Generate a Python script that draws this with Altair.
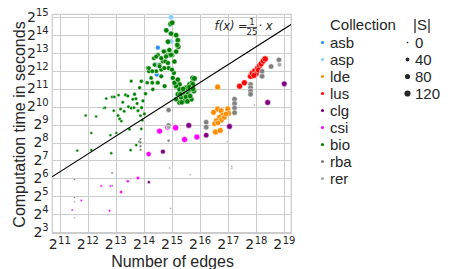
import altair as alt
import pandas as pd

collections = ["asb", "asp", "lde", "lus", "clg", "csi", "bio", "rba", "rer"]
colors = ["#1e90ff", "#87cefa", "#ff8c00", "#ff0000", "#800080", "#ff00ff", "#008000", "#808080", "#a9a9a9"]

# values stored as log2(edges), log2(seconds), |S|
asb_x = [14.50, 14.46, 14.44]
asb_y = [13.30, 11.80, 12.30]
asb_s = [70, 70, 50]

asp_x = [14.97, 14.93, 14.95, 14.97, 14.42, 14.45]
asp_y = [15.00, 14.55, 14.10, 13.65, 12.40, 11.95]
asp_s = [90, 70, 80, 90, 60, 50]

lde_x = [16.63, 16.63, 16.48, 16.75, 16.99, 17.02, 16.81, 16.69, 16.58, 16.52, 16.76, 16.87, 16.93, 16.64, 16.55, 16.72]
lde_y = [11.10, 9.87, 9.69, 9.78, 9.87, 9.63, 9.54, 9.41, 9.23, 9.05, 9.25, 9.41, 9.60, 9.10, 8.59, 8.68]
lde_s = [110, 110, 100, 100, 110, 100, 90, 90, 90, 90, 90, 90, 90, 90, 110, 110]

lus_x = [17.41, 17.58, 17.80, 17.86, 17.95, 18.00, 18.05, 18.12, 18.18, 18.25, 18.32, 17.92, 18.08]
lus_y = [11.15, 11.34, 11.70, 11.88, 12.00, 11.85, 12.15, 12.28, 12.40, 12.55, 12.67, 11.75, 12.05]
lus_s = [110, 110, 115, 115, 115, 110, 115, 115, 115, 115, 120, 110, 110]

clg_x = [14.68, 15.60, 16.22, 17.05, 18.41, 19.00, 14.18]
clg_y = [7.49, 8.96, 8.41, 8.90, 10.24, 11.28, 5.79]
clg_s = [70, 100, 90, 100, 100, 100, 25]

csi_x = [14.56, 15.13, 15.45, 15.89, 14.17, 13.79, 13.43, 13.19, 12.81, 12.48, 12.78, 11.77, 11.45, 14.85]
csi_y = [8.64, 8.83, 8.17, 8.31, 7.36, 6.02, 5.84, 5.24, 5.57, 5.57, 4.19, 4.77, 4.23, 8.85]
csi_s = [110, 120, 110, 110, 80, 30, 20, 25, 10, 10, 10, 8, 8, 100]

bio_x = [11.63, 11.93, 12.13, 12.13, 12.30, 12.58, 12.66, 12.81, 12.84, 12.87, 12.93, 13.02, 13.08, 13.14,
         13.17, 13.35, 13.43, 13.49, 13.53, 13.55, 13.55, 13.61, 13.67, 13.73, 13.76, 13.79, 13.85, 13.85,
         13.91, 13.97, 14.02, 14.06, 12.62, 13.25, 13.30, 13.45, 13.65, 13.72, 13.92, 13.95, 13.88, 12.95,
         13.10, 13.20,
         14.12, 14.14, 14.18, 14.26, 14.32, 14.36, 14.38, 14.44, 14.48, 14.50, 14.56, 14.62, 14.68, 14.74,
         14.77, 14.80, 14.83, 14.86, 14.88, 14.91, 14.95, 14.97, 15.01, 15.03, 15.07, 15.09, 15.15, 15.21,
         15.23, 15.01, 15.15, 15.19, 14.91, 14.71, 14.97, 14.79, 14.44, 14.62, 14.56, 14.86, 14.73, 15.00,
         14.18, 14.30, 14.62, 13.91, 14.30, 14.50, 14.74, 15.15,
         15.27, 15.33, 15.39, 15.45, 15.51, 15.57, 15.63, 15.69, 15.72, 15.74, 15.78, 15.15, 15.27, 15.21,
         15.33, 15.45, 15.57, 15.63, 15.74, 15.80, 15.51, 15.39, 15.27, 15.15, 15.69, 15.09, 15.21, 15.50,
         15.62, 15.40, 15.30, 15.55, 15.65, 15.75, 15.35]
bio_y = [7.55, 9.51, 8.53, 7.58, 9.45, 9.93, 10.46, 8.41, 7.40, 10.55, 9.78, 8.53, 9.51, 9.32,
         9.87, 10.66, 10.60, 8.74, 7.58, 11.43, 9.93, 10.42, 10.70, 7.86, 10.18, 9.78, 11.06, 8.04,
         8.77, 10.33, 9.60, 10.73, 9.95, 10.25, 9.75, 10.00, 9.95, 10.45, 9.95, 9.25, 9.50, 10.55,
         10.65, 9.20,
         11.34, 12.16, 11.98, 11.61, 10.97, 12.71, 12.34, 11.98, 11.34, 12.89, 12.34, 12.07, 12.53, 13.08,
         12.53, 14.27, 12.89, 13.63, 12.16, 12.89, 14.63, 14.08, 12.89, 11.61, 11.89, 12.53, 13.08, 13.72,
         13.35, 14.69, 14.00, 13.45, 13.17, 13.08, 12.90, 12.80, 12.80, 12.71, 12.26, 12.44, 12.16, 12.07,
         12.16, 11.98, 11.70, 11.43, 11.34, 11.34, 11.15, 11.34,
         11.25, 10.97, 10.70, 10.42, 11.06, 10.79, 11.25, 10.97, 11.34, 11.61, 10.88, 11.15, 10.97, 10.70,
         10.51, 10.33, 10.70, 10.97, 11.25, 11.58, 11.06, 10.79, 10.24, 10.42, 10.42, 11.34, 11.52, 10.55,
         11.10, 11.00, 10.70, 10.30, 10.60, 11.00, 10.25]
bio_s = [20, 20, 20, 20, 20, 25, 25, 20, 20, 25, 25, 20, 30, 30,
         30, 35, 35, 25, 25, 35, 35, 35, 40, 25, 35, 35, 40, 25,
         25, 40, 35, 45, 20, 30, 30, 30, 30, 35, 35, 25, 25, 25,
         25, 25,
         50, 60, 60, 55, 50, 65, 60, 60, 55, 70, 65, 65, 70, 75,
         70, 85, 75, 85, 70, 80, 90, 85, 80, 75, 75, 80, 85, 90,
         85, 90, 90, 85, 80, 75, 80, 75, 65, 70, 65, 75, 70, 75,
         60, 60, 65, 45, 55, 60, 65, 80,
         90, 90, 90, 90, 90, 90, 95, 95, 95, 95, 95, 85, 85, 85,
         85, 85, 90, 90, 95, 100, 90, 90, 85, 80, 90, 80, 85, 90,
         90, 90, 85, 85, 90, 95, 85]

rba_x = [14.88, 14.88, 14.88, 13.88, 13.88, 13.88, 13.88, 12.87, 12.87, 11.53, 11.53, 16.22, 16.22,
         17.23, 17.23, 17.23, 17.23, 17.80, 17.80, 17.80, 17.80, 18.21, 18.21, 18.53, 18.81]
rba_y = [9.82, 8.96, 8.10, 8.20, 8.00, 7.80, 7.60, 6.30, 5.58, 5.95, 4.95, 9.14, 8.86,
         10.42, 10.18, 9.93, 9.67, 11.25, 11.06, 10.88, 10.70, 11.98, 11.70, 12.25, 12.62]
rba_s = [80, 80, 20, 15, 15, 15, 15, 8, 8, 5, 5, 90, 90,
         90, 90, 90, 90, 90, 90, 90, 90, 90, 90, 90, 90]

rer_x = [14.92, 14.95, 15.65, 16.97, 17.13, 17.94, 11.53, 11.53, 18.83, 14.88, 17.13]
rer_y = [6.58, 4.32, 6.20, 8.04, 6.67, 10.10, 4.70, 3.80, 12.35, 8.85, 6.55]
rer_s = [5, 5, 3, 3, 5, 3, 3, 3, 60, 60, 3]

x_tick_exps = list(range(11, 20))
y_tick_exps = list(range(3, 16))

series = {
    "asb": (asb_x, asb_y, asb_s), "asp": (asp_x, asp_y, asp_s), "lde": (lde_x, lde_y, lde_s),
    "lus": (lus_x, lus_y, lus_s), "clg": (clg_x, clg_y, clg_s), "csi": (csi_x, csi_y, csi_s),
    "bio": (bio_x, bio_y, bio_s), "rba": (rba_x, rba_y, rba_s), "rer": (rer_x, rer_y, rer_s),
}

rows = []
for name in collections:
    xs, ys, ss = series[name]
    for a, b, c in zip(xs, ys, ss):
        rows.append({"edges": 2 ** a, "time": 2 ** b, "S": c, "Collection": name, "idx": len(rows)})
df = pd.DataFrame(rows)

x_lo, x_hi = 10.73, 19.24
y_lo, y_hi = 2.95, 15.18
line_df = pd.DataFrame({"edges": [2 ** x_lo, 2 ** x_hi]})
line_df["time"] = line_df["edges"] / 25

PLOT_W, PLOT_H = 239, 219
TXT = "#262626"

x_scale = alt.Scale(type="log", base=2, domain=[2 ** x_lo, 2 ** x_hi], nice=False)
y_scale = alt.Scale(type="log", base=2, domain=[2 ** y_lo, 2 ** y_hi], nice=False)

x_axis = alt.Axis(values=[2 ** i for i in x_tick_exps], labels=False,
                  title="Number of edges", titleX=120, titleY=33, titleBaseline="alphabetic")
y_axis = alt.Axis(values=[2 ** i for i in y_tick_exps], labels=False,
                  title="Computation time in seconds", titleX=-28, titleY=110,
                  titleBaseline="alphabetic")

points = alt.Chart(df).mark_circle(opacity=1, stroke="white", strokeWidth=0.5).encode(
    x=alt.X("edges:Q", scale=x_scale, axis=x_axis),
    y=alt.Y("time:Q", scale=y_scale, axis=y_axis),
    color=alt.Color("Collection:N", scale=alt.Scale(domain=collections, range=colors),
                    legend=alt.Legend(orient="none", legendX=278, legendY=4, title="Collection",
                                      symbolSize=10, symbolStrokeWidth=0, symbolOpacity=1,
                                      labelOffset=0, symbolOffset=-15, rowPadding=1,
                                      titlePadding=2)),
    size=alt.Size("S:Q", scale=alt.Scale(domain=[0, 120], range=[3, 38]),
                  legend=alt.Legend(orient="none", legendX=361, legendY=4, title="|S|",
                                    values=[0, 40, 80, 120], symbolFillColor=TXT,
                                    symbolStrokeWidth=0, symbolOpacity=1,
                                    labelOffset=0, symbolOffset=-13, rowPadding=1,
                                    titlePadding=2)),
    order=alt.Order("idx:Q"),
)

line = alt.Chart(line_df).mark_line(color="black", strokeWidth=1.2, clip=True).encode(
    x=alt.X("edges:Q", scale=x_scale), y=alt.Y("time:Q", scale=y_scale)
)

# tick labels as 2 with superscript exponent
xlab = pd.DataFrame({"edges": [2 ** i for i in x_tick_exps], "base": ["2"] * len(x_tick_exps),
                     "exp": [str(i) for i in x_tick_exps]})
x_base = alt.Chart(xlab).mark_text(align="right", baseline="middle", font="DejaVu Sans",
                                   fontSize=14, color=TXT, dx=-2).encode(
    x=alt.X("edges:Q", scale=x_scale), y=alt.value(PLOT_H + 12), text="base:N")
x_exp = alt.Chart(xlab).mark_text(align="left", baseline="middle", font="DejaVu Sans",
                                  fontSize=10, color=TXT, dx=-1.5).encode(
    x=alt.X("edges:Q", scale=x_scale), y=alt.value(PLOT_H + 8), text="exp:N")

ylab = pd.DataFrame({"time": [2 ** i for i in y_tick_exps], "base": ["2"] * len(y_tick_exps),
                     "exp": [str(i) for i in y_tick_exps], "nd": [len(str(i)) for i in y_tick_exps]})
y_exp = alt.Chart(ylab).mark_text(align="right", baseline="middle", font="DejaVu Sans",
                                  fontSize=10, color=TXT, dy=-4.2).encode(
    x=alt.value(-3.3), y=alt.Y("time:Q", scale=y_scale), text="exp:N")
y_base1 = alt.Chart(ylab).transform_filter("datum.nd == 1").mark_text(
    align="right", baseline="middle", font="DejaVu Sans", fontSize=14, color=TXT, dy=0.5).encode(
    x=alt.value(-3.3 - 6.36), y=alt.Y("time:Q", scale=y_scale), text="base:N")
y_base2 = alt.Chart(ylab).transform_filter("datum.nd == 2").mark_text(
    align="right", baseline="middle", font="DejaVu Sans", fontSize=14, color=TXT, dy=0.5).encode(
    x=alt.value(-3.3 - 12.72), y=alt.Y("time:Q", scale=y_scale), text="base:N")

# annotation f(x) = 1/25 * x
def xd(v):
    return 2 ** v
ann_main = pd.DataFrame({"edges": [xd(16.52)], "time": [xd(14.45)], "t": ["f(x) ="]})
ann_num = pd.DataFrame({"edges": [xd(17.85)], "time": [xd(14.73)], "t": ["1"]})
ann_den = pd.DataFrame({"edges": [xd(17.85)], "time": [xd(14.15)], "t": ["25"]})
ann_tail = pd.DataFrame({"edges": [xd(18.08)], "time": [xd(14.45)], "t": ["· x"]})
bar_df = pd.DataFrame({"edges": [xd(17.67)], "edges2": [xd(18.03)], "time": [xd(14.43)]})

t_main = alt.Chart(ann_main).mark_text(align="left", baseline="middle", font="DejaVu Sans",
                                       fontSize=11.5, fontStyle="italic", color=TXT).encode(
    x=alt.X("edges:Q", scale=x_scale), y=alt.Y("time:Q", scale=y_scale), text="t:N")
t_num = alt.Chart(ann_num).mark_text(align="center", baseline="middle", font="DejaVu Sans",
                                     fontSize=8.5, color=TXT).encode(
    x=alt.X("edges:Q", scale=x_scale), y=alt.Y("time:Q", scale=y_scale), text="t:N")
t_den = alt.Chart(ann_den).mark_text(align="center", baseline="middle", font="DejaVu Sans",
                                     fontSize=8.5, color=TXT).encode(
    x=alt.X("edges:Q", scale=x_scale), y=alt.Y("time:Q", scale=y_scale), text="t:N")
t_tail = alt.Chart(ann_tail).mark_text(align="left", baseline="middle", font="DejaVu Sans",
                                       fontSize=11.5, fontStyle="italic", color=TXT).encode(
    x=alt.X("edges:Q", scale=x_scale), y=alt.Y("time:Q", scale=y_scale), text="t:N")
bar = alt.Chart(bar_df).mark_rule(color=TXT, strokeWidth=0.8).encode(
    x=alt.X("edges:Q", scale=x_scale), x2="edges2:Q", y=alt.Y("time:Q", scale=y_scale))

chart = alt.layer(points, line, x_base, x_exp, y_exp, y_base1, y_base2,
                  t_main, t_num, t_den, bar, t_tail).properties(
    width=PLOT_W, height=PLOT_H,
    autosize=alt.AutoSizeParams(type="none"),
    padding={"left": 44, "top": 6, "right": 152, "bottom": 36},
).configure_view(
    stroke="#cccccc", strokeWidth=1.25
).configure_axis(
    grid=True, gridColor="#cccccc", gridWidth=1, domain=False, ticks=False,
    titleFont="Liberation Sans", titleFontSize=16, titleFontWeight="normal", titleColor=TXT,
).configure_legend(
    titleFont="Liberation Sans", titleFontSize=15, titleFontWeight="normal", titleColor=TXT,
    labelFont="Liberation Sans", labelFontSize=15, labelColor=TXT, padding=0,
)

chart.save("out.html", embed_options={"renderer": "svg", "actions": False})
